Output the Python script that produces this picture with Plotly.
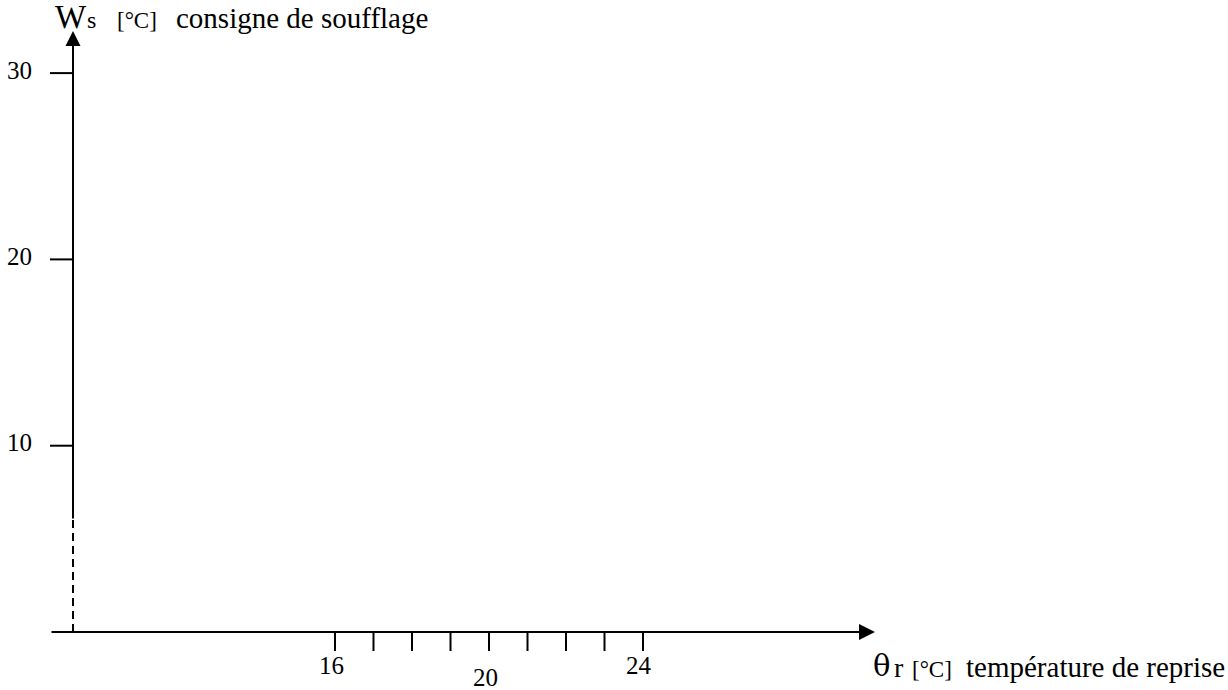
import plotly.graph_objects as go

# ---------------- data ----------------
x_ticks = [16, 17, 18, 19, 20, 21, 22, 23, 24]
x_tick_labels = ["16", "", "", "", "20", "", "", "", "24"]
y_ticks = [10, 20, 30]
y_tick_labels = ["10", "20", "30"]
y_axis_title = ["W", "s", "[°C]", "consigne de soufflage"]
x_axis_title = ["θ", "r", "[°C]", "température de reprise"]

# ---------------- geometry helpers (pixel <-> data) ----------------
W, H = 1228, 690
PX_PER_X = 38.5
PX_PER_Y = 18.63
X16_PX = 335
Y0_PX = 632


def px2x(p):
    return 16 + (p - X16_PX) / PX_PER_X


def py2y(p):
    return (Y0_PX - p) / PX_PER_Y


FONT = "Liberation Serif, Times New Roman, serif"
x_origin = px2x(73)
x_axis_left = px2x(50)
x_tip = px2x(875)
y_tip = py2y(31)
y_dash_top = py2y(520)
tick_len_y = 19 / PX_PER_Y

fig = go.Figure()

# dashed lower part of the vertical axis
fig.add_trace(go.Scatter(
    x=[x_origin, x_origin], y=[0, y_dash_top], mode="lines",
    line=dict(color="black", width=2, dash="8px,5px"), hoverinfo="skip"))

# x tick marks
xs, ys = [], []
for v in x_ticks:
    xs += [v, v, None]
    ys += [0, -tick_len_y, None]
fig.add_trace(go.Scatter(x=xs, y=ys, mode="lines",
                         line=dict(color="black", width=2), hoverinfo="skip"))

# y tick marks
xs, ys = [], []
for v in y_ticks:
    xs += [x_axis_left, x_origin, None]
    ys += [v, v, None]
fig.add_trace(go.Scatter(x=xs, y=ys, mode="lines",
                         line=dict(color="black", width=2), hoverinfo="skip"))

annotations = []
# axis arrows
annotations.append(dict(x=x_tip, y=0, ax=x_axis_left, ay=0,
                        xref="x", yref="y", axref="x", ayref="y",
                        showarrow=True, arrowhead=2, arrowwidth=2,
                        arrowsize=1.6, arrowcolor="black", text=""))
annotations.append(dict(x=x_origin, y=y_tip, ax=x_origin, ay=y_dash_top,
                        xref="x", yref="y", axref="x", ayref="y",
                        showarrow=True, arrowhead=2, arrowwidth=2,
                        arrowsize=1.5, arrowcolor="black", text=""))

# x tick labels (20 is staggered lower)
for v, lab in zip(x_ticks, x_tick_labels):
    if not lab:
        continue
    cy = 677 if v == 20 else 665
    annotations.append(dict(x=v - 4 / PX_PER_X, y=py2y(cy), text=lab,
                            xref="x", yref="y", showarrow=False,
                            xanchor="center", yanchor="middle",
                            font=dict(family=FONT, size=25, color="black")))

# y tick labels
for v, lab in zip(y_ticks, y_tick_labels):
    annotations.append(dict(x=px2x(34), y=v + 3 / PX_PER_Y, text=lab,
                            xref="x", yref="y", showarrow=False,
                            xanchor="right", yanchor="middle",
                            font=dict(family=FONT, size=25, color="black")))


def baseline_text(text, left_px, baseline_px, size, family=FONT):
    anchor_px = baseline_px + 0.216 * size + 1
    return dict(x=px2x(left_px - 1), y=py2y(anchor_px), text=text,
                xref="x", yref="y", showarrow=False,
                xanchor="left", yanchor="bottom",
                font=dict(family=family, size=size, color="black"))


# vertical axis title
for txt, left, size in zip(y_axis_title, [54, 86, 116, 175], [33, 24, 23, 29]):
    annotations.append(baseline_text(txt, left, 29, size))

# horizontal axis title
fams = ["DejaVu Serif", FONT, FONT, FONT]
for txt, left, size, fam in zip(x_axis_title, [872, 893, 911, 965],
                                [29, 28, 23, 29], fams):
    annotations.append(baseline_text(txt, left, 678, size, fam))

fig.update_layout(
    width=W, height=H,
    margin=dict(l=0, r=0, t=0, b=0),
    paper_bgcolor="white", plot_bgcolor="white",
    showlegend=False,
    xaxis=dict(range=[px2x(0), px2x(W)], visible=False, fixedrange=True),
    yaxis=dict(range=[py2y(H), py2y(0)], visible=False, fixedrange=True),
    annotations=annotations,
)

fig.write_html("out.html", config={"displayModeBar": False},
               post_script="document.body.style.margin='0';document.body.style.overflow='hidden';")
